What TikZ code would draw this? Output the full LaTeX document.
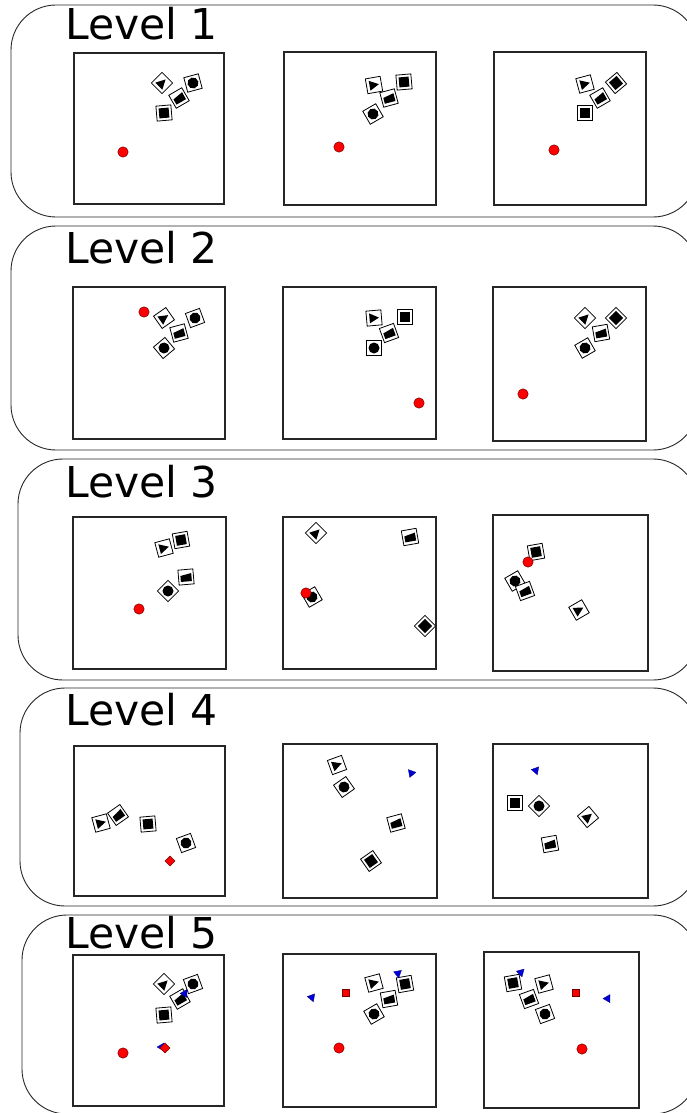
\documentclass[tikz,border=0pt]{standalone}
\usepackage{fontspec}
\newfontfamily\lab{DejaVu Sans}
\tikzset{
  levelbox/.style={draw=black!85, line width=0.9pt, rounded corners=45pt},
  panel/.style={draw=black!85, line width=1.1pt, fill=white},
  tileline/.style={draw=black, fill=white, line width=0.8pt},
  reddot/.style={fill=red, draw=red!45!black, line width=0.5pt},
  bluem/.style={fill=blue!85!black, draw=blue!50!black, line width=0.3pt},
  levellabel/.style={anchor=base west, inner sep=0pt, font=\lab\fontsize{42.5}{42.5}\selectfont}
}
\newcommand\gT{\fill[black] (-4.5,-5) -- (5,0) -- (-4.5,5) -- cycle;}
\newcommand\gC{\fill[black] (0,0) circle (5.5);}
\newcommand\gS{\fill[black] (-5,-5) rectangle (5,5);}
\newcommand\gH{\fill[black] (-5.5,-1.5) -- (5.5,-3.5) -- (5.5,4.5) -- (-5.5,4.5) -- cycle;}
\newcommand\tile[4]{\begin{scope}[shift={(#1,#2)},rotate=#3]\filldraw[tileline] (-7.5,-7.5) rectangle (7.5,7.5); #4\end{scope}}
\newcommand\rdot[2]{\filldraw[reddot] (#1,#2) circle (5.2);}
\newcommand\rsq[3]{\filldraw[reddot,shift={(#1,#2)},rotate=#3] (-3.5,-3.5) rectangle (3.5,3.5);}
\newcommand\bmark[3]{\filldraw[bluem,shift={(#1,#2)},rotate=#3] (-3,-4) -- (4,0) -- (-3,4) -- cycle;}
\begin{document}
\begin{tikzpicture}[x=1pt,y=-1pt]
\useasboundingbox (0,0) rectangle (687,1113);
\fill[white] (0,0) rectangle (687,1113);
% level boxes
\draw[levelbox] (11,5) rectangle (698,217);
\draw[levelbox] (11,226) rectangle (698,450);
\draw[levelbox] (18,459) rectangle (698,680);
\draw[levelbox] (20,688) rectangle (698,906);
\draw[levelbox] (22,915) rectangle (698,1114);
% labels
\node[levellabel] (l1) at (65,40) {Level 1};
\node[levellabel] (l2) at (65,263) {Level 2};
\node[levellabel] (l3) at (65,497) {Level 3};
\node[levellabel] (l4) at (65,725) {Level 4};
\node[levellabel] (l5) at (65,948) {Level 5};
% panels
\draw[panel] (74,53) rectangle (224,204);
\draw[panel] (284,52) rectangle (436,205);
\draw[panel] (494,52) rectangle (646,205);
\draw[panel] (73,287) rectangle (225,439);
\draw[panel] (283,287) rectangle (436,439);
\draw[panel] (493,287) rectangle (646,441);
\draw[panel] (73,517) rectangle (226,669);
\draw[panel] (283,517) rectangle (436,669);
\draw[panel] (493,515) rectangle (648,671);
\draw[panel] (74,746) rectangle (225,896);
\draw[panel] (283,744) rectangle (437,898);
\draw[panel] (493,744) rectangle (648,898);
\draw[panel] (73,955) rectangle (224,1106);
\draw[panel] (283,954) rectangle (436,1107);
\draw[panel] (484,952) rectangle (639,1108);
% ---- Row 1
\tile{162}{83}{45}{\gT} \tile{193}{83}{15}{\gC} \tile{179}{98}{30}{\gH} \tile{164}{113}{5}{\gS}
\rdot{123}{152}
\tile{374}{85}{10}{\gT} \tile{404}{82}{5}{\gS} \tile{389}{98}{15}{\gH} \tile{373}{114}{30}{\gC}
\rdot{339}{147}
\tile{585}{84}{15}{\gT} \tile{616}{83}{40}{\gS} \tile{600}{98}{30}{\gH} \tile{585}{113}{0}{\gS}
\rdot{554}{150}
% ---- Row 2
\rdot{144}{312}
\tile{164}{318}{35}{\gT} \tile{195}{318}{20}{\gC} \tile{179}{333}{15}{\gH} \tile{164}{348}{40}{\gC}
\tile{374}{318}{5}{\gT} \tile{405}{317}{0}{\gS} \tile{389}{333}{20}{\gH} \tile{374}{348}{0}{\gC}
\rdot{419}{403}
\tile{585}{318}{45}{\gT} \tile{616}{318}{45}{\gS} \tile{601}{333}{10}{\gH} \tile{585}{348}{30}{\gC}
\rdot{523}{394}
% ---- Row 3
\tile{164}{548}{15}{\gT} \tile{181}{540}{10}{\gS} \tile{186}{577}{5}{\gH} \tile{168}{591}{45}{\gC}
\rdot{139}{609}
\tile{316}{533}{45}{\gT} \tile{410}{537}{10}{\gH} \tile{312}{597}{30}{\gC} \tile{425}{626}{45}{\gS}
\rdot{306}{593}
\tile{515}{581}{30}{\gC} \tile{525}{591}{20}{\gH} \tile{536}{552}{10}{\gS} \tile{579}{610}{30}{\gT}
\rdot{528}{562}
% ---- Row 4
\tile{101}{823}{15}{\gT} \tile{118}{815}{35}{\gH} \tile{148}{824}{5}{\gS} \tile{186}{843}{20}{\gC}
\rsq{170}{861}{45}
\tile{337}{765}{20}{\gT} \tile{344}{787}{35}{\gC} \tile{396}{823}{15}{\gH} \tile{371}{861}{35}{\gS}
\bmark{412}{773}{10}
\bmark{536}{771}{-70}
\tile{515}{803}{0}{\gS} \tile{539}{806}{45}{\gC} \tile{588}{817}{40}{\gT} \tile{550}{844}{10}{\gH}
% ---- Row 5
\tile{164}{984}{45}{\gT} \tile{193}{984}{20}{\gC} \tile{180}{999}{30}{\gH} \tile{164}{1015}{5}{\gS}
\bmark{185}{994}{-60}
\rdot{123}{1053}
\bmark{161}{1047}{180} \rsq{165}{1048}{45}
\bmark{312}{998}{-70} \rsq{346}{993}{0}
\tile{374}{983}{15}{\gT} \tile{405}{984}{10}{\gS} \tile{389}{999}{10}{\gH} \tile{374}{1014}{30}{\gC}
\bmark{398}{974}{-80}
\rdot{339}{1048}
\tile{513}{983}{10}{\gS} \tile{544}{984}{15}{\gT} \tile{529}{999}{20}{\gH} \tile{545}{1014}{20}{\gC}
\bmark{521}{973}{-75}
\rsq{576}{993}{0} \bmark{608}{998}{60}
\rdot{582}{1049}
\end{tikzpicture}
\end{document}
